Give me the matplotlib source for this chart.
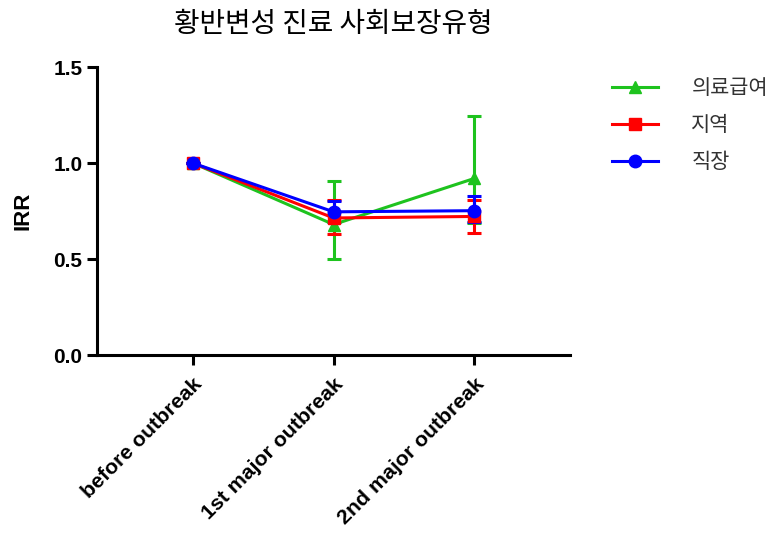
import matplotlib
matplotlib.use("Agg")
import matplotlib.pyplot as plt
from matplotlib.lines import Line2D

plt.rcParams['font.family'] = ['Liberation Sans', 'Noto Sans CJK KR', 'DejaVu Sans']

categories = ["before outbreak", "1st major outbreak", "2nd major outbreak"]

series_names = ["의료급여", "지역", "직장"]

medicaid_irr = [1.0, 0.68, 0.92]
medicaid_lo = [1.0, 0.50, 0.686]
medicaid_hi = [1.0, 0.906, 1.245]

regional_irr = [1.0, 0.714, 0.722]
regional_lo = [1.0, 0.632, 0.636]
regional_hi = [1.0, 0.807, 0.81]

employee_irr = [1.0, 0.746, 0.752]
employee_lo = [1.0, 0.694, 0.694]
employee_hi = [1.0, 0.80, 0.828]

y_ticks = [0.0, 0.5, 1.0, 1.5]

fig = plt.figure(figsize=(7.79, 5.34), dpi=100)
ax = fig.add_axes([0.1245, 0.335, 0.6075, 0.5395])

x = list(range(len(categories)))
styles = [
    (medicaid_irr, medicaid_lo, medicaid_hi, '#1ec31e', '^'),
    (regional_irr, regional_lo, regional_hi, '#ff0000', 's'),
    (employee_irr, employee_lo, employee_hi, '#0000ff', 'o'),
]
handles = []
for name, (vals, lo, hi, color, marker) in zip(series_names, styles):
    yerr = [[v - l for v, l in zip(vals, lo)], [h - v for v, h in zip(vals, hi)]]
    ax.errorbar(x, vals, yerr=yerr, color=color, marker=marker, markersize=9,
                linewidth=2.2, elinewidth=2.2, capsize=5, capthick=2.2)
    handles.append(Line2D([], [], color=color, marker=marker, markersize=9,
                          linewidth=2.2, label=name))

ax.set_xlim(-0.68, 2.68)
ax.set_ylim(0, 1.5)
ax.set_yticks(y_ticks)
ax.set_yticklabels([f"{t:.1f}" for t in y_ticks], fontsize=15, fontweight='bold')
ax.set_xticks(x)
ax.set_xticklabels(categories, rotation=45, ha='right', rotation_mode='anchor',
                   fontsize=15.3, fontweight='bold')
ax.set_ylabel("IRR", fontsize=16, fontweight='bold', labelpad=14)

for side in ('top', 'right'):
    ax.spines[side].set_visible(False)
for side in ('left', 'bottom'):
    ax.spines[side].set_linewidth(2.2)
ax.tick_params(width=2.2, length=7)
ax.tick_params(axis='y', pad=3.5)
ax.tick_params(axis='x', pad=7)

ax.set_title("황반변성 진료 사회보장유형", fontsize=20,
             family=['Noto Sans CJK KR', 'DejaVu Sans'], pad=25)

leg = ax.legend(handles=handles, loc='upper left', bbox_to_anchor=(1.049, 1.03),
                frameon=False,
                prop={'family': ['Noto Sans CJK KR', 'DejaVu Sans'], 'size': 15},
                handlelength=2.2, labelspacing=0.72, handletextpad=1.6)
for t in leg.get_texts():
    t.set_color('#333333')

fig.savefig("out.png", dpi=100)
